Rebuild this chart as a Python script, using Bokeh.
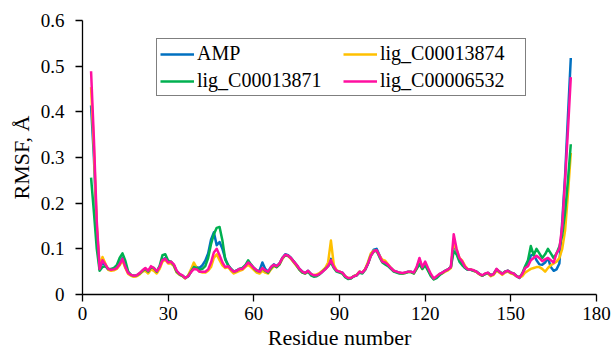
from bokeh.plotting import figure
from bokeh.models import Legend, LegendItem, Range1d, FixedTicker
from bokeh.embed import file_html
from bokeh.resources import INLINE

residues = list(range(3, 172))

amp = [
    0.414, 0.30, 0.14, 0.055, 0.07, 0.063, 0.055, 0.054, 0.055, 0.058,
    0.068, 0.08, 0.062, 0.047, 0.042, 0.040, 0.041, 0.045, 0.051, 0.056,
    0.050, 0.058, 0.057, 0.050, 0.060, 0.076, 0.080, 0.071, 0.070, 0.064,
    0.050, 0.044, 0.041, 0.036, 0.040, 0.050, 0.062, 0.060, 0.058, 0.064,
    0.074, 0.090, 0.120, 0.136, 0.108, 0.115, 0.100, 0.078, 0.064, 0.056,
    0.050, 0.053, 0.056, 0.057, 0.062, 0.068, 0.064, 0.058, 0.052, 0.052,
    0.070, 0.056, 0.050, 0.060, 0.066, 0.062, 0.068, 0.080, 0.088, 0.086,
    0.080, 0.072, 0.064, 0.056, 0.050, 0.047, 0.052, 0.045, 0.041, 0.042,
    0.045, 0.050, 0.056, 0.063, 0.078, 0.060, 0.052, 0.050, 0.048, 0.040,
    0.035, 0.036, 0.040, 0.042, 0.050, 0.048, 0.055, 0.068, 0.088, 0.098,
    0.100, 0.086, 0.072, 0.068, 0.064, 0.058, 0.052, 0.050, 0.048, 0.046,
    0.048, 0.050, 0.050, 0.047, 0.058, 0.075, 0.058, 0.068, 0.055, 0.042,
    0.034, 0.038, 0.044, 0.048, 0.052, 0.055, 0.060, 0.110, 0.095, 0.075,
    0.068, 0.058, 0.054, 0.054, 0.052, 0.050, 0.045, 0.041, 0.045, 0.047,
    0.042, 0.045, 0.055, 0.050, 0.045, 0.050, 0.052, 0.048, 0.045, 0.040,
    0.036, 0.045, 0.058, 0.065, 0.085, 0.088, 0.075, 0.066, 0.065, 0.070,
    0.080, 0.060, 0.052, 0.055, 0.068, 0.16, 0.26, 0.39, 0.518,
]

lig_13874 = [
    0.454, 0.32, 0.15, 0.060, 0.082, 0.068, 0.054, 0.052, 0.053, 0.056,
    0.064, 0.075, 0.058, 0.045, 0.041, 0.039, 0.040, 0.044, 0.050, 0.052,
    0.046, 0.055, 0.052, 0.046, 0.056, 0.072, 0.076, 0.068, 0.068, 0.062,
    0.048, 0.043, 0.040, 0.035, 0.042, 0.055, 0.070, 0.058, 0.050, 0.048,
    0.048, 0.052, 0.060, 0.080, 0.088, 0.075, 0.064, 0.058, 0.060, 0.052,
    0.046, 0.049, 0.052, 0.054, 0.060, 0.065, 0.060, 0.054, 0.048, 0.046,
    0.052, 0.048, 0.046, 0.055, 0.062, 0.060, 0.066, 0.078, 0.086, 0.084,
    0.078, 0.070, 0.062, 0.054, 0.048, 0.046, 0.050, 0.044, 0.043, 0.044,
    0.047, 0.052, 0.058, 0.070, 0.118, 0.065, 0.053, 0.050, 0.046, 0.040,
    0.036, 0.036, 0.040, 0.043, 0.050, 0.048, 0.056, 0.072, 0.090, 0.096,
    0.095, 0.085, 0.076, 0.074, 0.066, 0.058, 0.052, 0.049, 0.047, 0.046,
    0.047, 0.049, 0.049, 0.046, 0.056, 0.072, 0.056, 0.066, 0.054, 0.042,
    0.034, 0.038, 0.044, 0.046, 0.050, 0.053, 0.058, 0.115, 0.098, 0.080,
    0.074, 0.062, 0.055, 0.055, 0.052, 0.049, 0.044, 0.041, 0.045, 0.046,
    0.040, 0.043, 0.052, 0.048, 0.043, 0.048, 0.050, 0.046, 0.044, 0.040,
    0.037, 0.040, 0.048, 0.052, 0.056, 0.058, 0.060, 0.060, 0.056, 0.050,
    0.058, 0.064, 0.068, 0.072, 0.080, 0.10, 0.14, 0.22, 0.31,
]

lig_13871 = [
    0.256, 0.18, 0.10, 0.052, 0.06, 0.062, 0.056, 0.056, 0.058, 0.064,
    0.080, 0.090, 0.074, 0.050, 0.043, 0.041, 0.042, 0.046, 0.052, 0.056,
    0.050, 0.060, 0.058, 0.050, 0.062, 0.086, 0.088, 0.074, 0.072, 0.064,
    0.050, 0.044, 0.041, 0.036, 0.040, 0.050, 0.060, 0.058, 0.054, 0.056,
    0.062, 0.080, 0.110, 0.132, 0.146, 0.148, 0.118, 0.076, 0.064, 0.056,
    0.050, 0.052, 0.056, 0.058, 0.064, 0.075, 0.066, 0.058, 0.052, 0.050,
    0.058, 0.052, 0.048, 0.058, 0.064, 0.060, 0.066, 0.080, 0.086, 0.085,
    0.080, 0.072, 0.064, 0.054, 0.048, 0.046, 0.050, 0.042, 0.039, 0.040,
    0.044, 0.050, 0.056, 0.062, 0.070, 0.058, 0.050, 0.048, 0.046, 0.038,
    0.034, 0.035, 0.040, 0.042, 0.048, 0.046, 0.054, 0.068, 0.085, 0.094,
    0.096, 0.082, 0.070, 0.066, 0.062, 0.056, 0.050, 0.048, 0.046, 0.046,
    0.047, 0.049, 0.049, 0.046, 0.056, 0.066, 0.056, 0.064, 0.052, 0.040,
    0.033, 0.036, 0.042, 0.047, 0.052, 0.055, 0.060, 0.095, 0.088, 0.072,
    0.064, 0.058, 0.054, 0.054, 0.052, 0.050, 0.045, 0.041, 0.045, 0.047,
    0.042, 0.045, 0.055, 0.050, 0.046, 0.050, 0.052, 0.048, 0.046, 0.041,
    0.037, 0.046, 0.062, 0.075, 0.106, 0.086, 0.100, 0.090, 0.080, 0.088,
    0.100, 0.090, 0.080, 0.090, 0.105, 0.13, 0.18, 0.25, 0.329,
]

lig_06532 = [
    0.489, 0.34, 0.16, 0.056, 0.075, 0.066, 0.056, 0.054, 0.055, 0.058,
    0.066, 0.078, 0.060, 0.047, 0.043, 0.041, 0.042, 0.047, 0.053, 0.058,
    0.052, 0.062, 0.058, 0.051, 0.060, 0.075, 0.078, 0.070, 0.072, 0.066,
    0.052, 0.045, 0.042, 0.036, 0.040, 0.049, 0.056, 0.055, 0.050, 0.050,
    0.050, 0.055, 0.070, 0.092, 0.100, 0.086, 0.070, 0.060, 0.062, 0.055,
    0.050, 0.052, 0.056, 0.056, 0.062, 0.070, 0.065, 0.058, 0.053, 0.050,
    0.058, 0.053, 0.050, 0.060, 0.065, 0.062, 0.068, 0.080, 0.087, 0.085,
    0.080, 0.072, 0.065, 0.056, 0.050, 0.047, 0.052, 0.045, 0.042, 0.042,
    0.045, 0.050, 0.055, 0.062, 0.075, 0.060, 0.052, 0.050, 0.048, 0.040,
    0.036, 0.036, 0.040, 0.042, 0.050, 0.048, 0.055, 0.068, 0.085, 0.095,
    0.097, 0.085, 0.072, 0.070, 0.065, 0.058, 0.052, 0.050, 0.048, 0.047,
    0.048, 0.050, 0.050, 0.048, 0.060, 0.080, 0.060, 0.072, 0.058, 0.045,
    0.035, 0.040, 0.045, 0.048, 0.052, 0.055, 0.060, 0.132, 0.100, 0.080,
    0.072, 0.060, 0.055, 0.055, 0.053, 0.050, 0.045, 0.042, 0.046, 0.048,
    0.042, 0.045, 0.056, 0.050, 0.045, 0.050, 0.052, 0.048, 0.046, 0.040,
    0.037, 0.045, 0.058, 0.062, 0.075, 0.080, 0.085, 0.080, 0.073, 0.077,
    0.080, 0.075, 0.070, 0.090, 0.100, 0.15, 0.25, 0.36, 0.476,
]

series_names = ["AMP", "lig_C00013874", "lig_C00013871", "lig_C00006532"]
series_values = [amp, lig_13874, lig_13871, lig_06532]
series_colors = ["#0070C0", "#FFC000", "#00B050", "#FF0FA0"]

x_ticks = [0, 30, 60, 90, 120, 150, 180]
y_ticks = [0, 0.1, 0.2, 0.3, 0.4, 0.5, 0.6]

FONT = "'Liberation Serif', 'Times New Roman', serif"

p = figure(width=615, height=356, output_backend="svg", toolbar_location=None,
           x_range=Range1d(0, 180), y_range=Range1d(0, 0.6),
           min_border_left=82, min_border_right=19, min_border_top=20,
           min_border_bottom=62)
p.outline_line_color = None
p.grid.visible = False
p.background_fill_color = "white"
p.border_fill_color = "white"

renderers = []
for name, vals, col in zip(series_names, series_values, series_colors):
    r = p.line(residues, vals, line_color=col, line_width=2.5, line_join="round")
    renderers.append(r)

for ax in (p.xaxis[0], p.yaxis[0]):
    ax.axis_line_color = "#000000"
    ax.axis_line_width = 1.3
    ax.major_tick_line_color = "#000000"
    ax.major_tick_line_width = 1.3
    ax.major_tick_out = 7
    ax.major_tick_in = 0
    ax.minor_tick_out = 0
    ax.minor_tick_in = 0
    ax.major_label_text_font = FONT
    ax.major_label_text_font_size = "19px"
    ax.major_label_text_color = "#000000"
    ax.axis_label_text_font = FONT
    ax.axis_label_text_font_size = "22px"
    ax.axis_label_text_font_style = "normal"
    ax.axis_label_text_color = "#000000"

p.xaxis.ticker = FixedTicker(ticks=x_ticks)
p.yaxis.ticker = FixedTicker(ticks=y_ticks)
p.yaxis.major_label_overrides = {0: "0"}
p.xaxis.axis_label = "Residue number"
p.yaxis.axis_label = "RMSF, Å"
p.xaxis.major_label_standoff = 5
p.xaxis.axis_label_standoff = 2
p.yaxis.major_label_standoff = 11
p.yaxis.axis_label_standoff = 4

items = [LegendItem(label=n, renderers=[r]) for n, r in zip(series_names, renderers)]
legend = Legend(items=items, location=(74, 198), orientation="horizontal", ncols=2)
legend.border_line_color = "#000000"
legend.border_line_width = 1.5
legend.background_fill_color = "white"
legend.background_fill_alpha = 1.0
legend.label_text_font = FONT
legend.label_text_font_size = "20px"
legend.label_text_color = "#000000"
legend.glyph_width = 34
legend.glyph_height = 20
legend.label_standoff = 3
legend.label_width = 142
legend.label_height = 18
legend.padding = 3
legend.spacing = 4
legend.margin = 0
p.add_layout(legend, "center")

open("out.html", "w").write(file_html(p, INLINE))
